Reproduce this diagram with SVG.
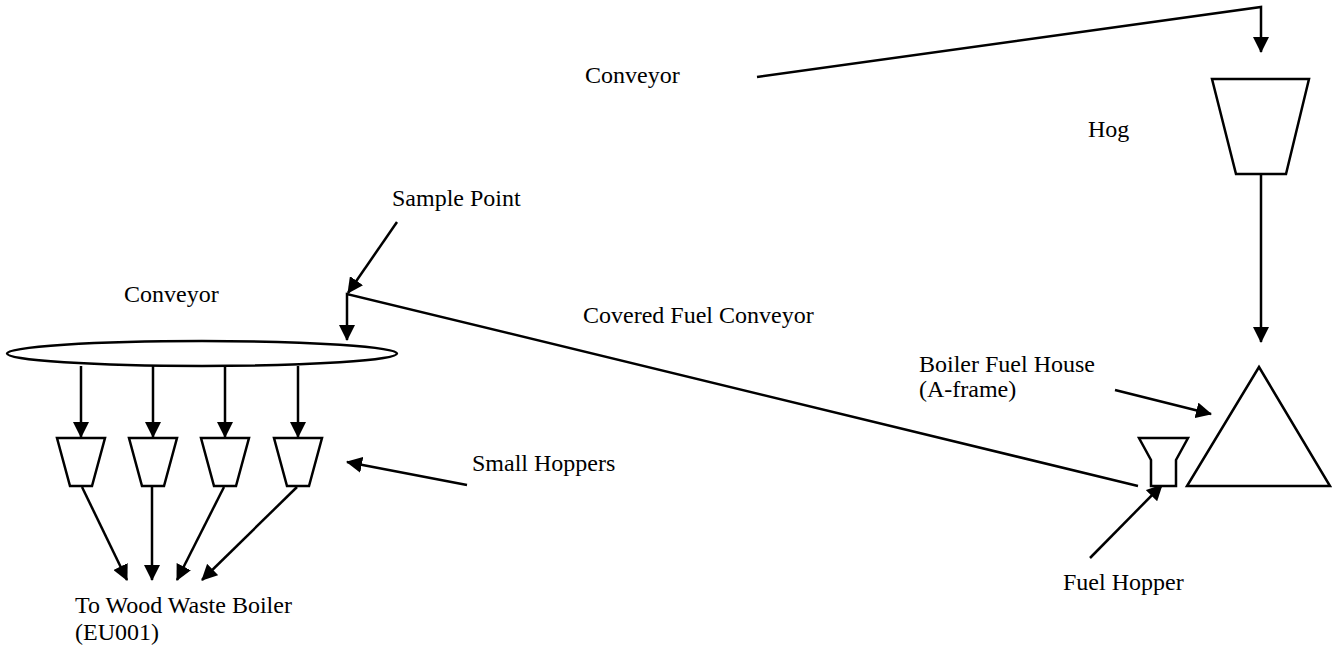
<svg xmlns="http://www.w3.org/2000/svg" width="1338" height="650" viewBox="0 0 1338 650">
<style>
.s{fill:none;stroke:#000;stroke-width:2.5;stroke-linejoin:miter}
.f{fill:#fff;stroke:#000;stroke-width:2.5}
.t{font-family:"Liberation Serif","Times New Roman",serif;font-size:24px;fill:#000}
</style>
<defs>
<marker id="ah" markerUnits="userSpaceOnUse" markerWidth="16" markerHeight="16" viewBox="0 0 16 16" refX="15" refY="8" orient="auto">
<path d="M0,0 L16,8 L0,16 Z" fill="#000"/>
</marker>
</defs>
<rect width="1338" height="650" fill="#fff"/>
<g id="connectors">
<polyline class="s" points="757,77 1261,7 1261,52" marker-end="url(#ah)"/>
<line class="s" x1="1261" y1="174" x2="1261" y2="342" marker-end="url(#ah)"/>
<polyline class="s" points="1138,486 347,294 347,340" marker-end="url(#ah)"/>
<line class="s" x1="397" y1="222" x2="348" y2="293" marker-end="url(#ah)"/>
<line class="s" x1="81" y1="366" x2="81" y2="437" marker-end="url(#ah)"/>
<line class="s" x1="153" y1="366" x2="153" y2="437" marker-end="url(#ah)"/>
<line class="s" x1="225" y1="366" x2="225" y2="437" marker-end="url(#ah)"/>
<line class="s" x1="298" y1="366" x2="298" y2="437" marker-end="url(#ah)"/>
<line class="s" x1="82" y1="487" x2="127" y2="580" marker-end="url(#ah)"/>
<line class="s" x1="152" y1="487" x2="152" y2="580" marker-end="url(#ah)"/>
<line class="s" x1="224" y1="487" x2="177" y2="580" marker-end="url(#ah)"/>
<line class="s" x1="297" y1="487" x2="202" y2="580" marker-end="url(#ah)"/>
<line class="s" x1="467" y1="485" x2="347" y2="462" marker-end="url(#ah)"/>
<line class="s" x1="1115" y1="390" x2="1211" y2="414" marker-end="url(#ah)"/>
<line class="s" x1="1090" y1="558" x2="1162" y2="485" marker-end="url(#ah)"/>
</g>
<g id="hog">
<polygon class="f" points="1212,79 1309,79 1286,174 1236,174"/>
<text class="t" x="1088" y="137">Hog</text>
</g>
<g id="conveyor-top">
<text class="t" x="585" y="83">Conveyor</text>
</g>
<g id="boiler-fuel-house">
<polygon class="f" points="1259,367 1330,486 1187,486"/>
<text class="t" x="919" y="372">Boiler Fuel House</text>
<text class="t" x="919" y="397">(A-frame)</text>
</g>
<g id="fuel-hopper">
<polygon class="f" points="1139,438 1188,438 1176,460 1176,486 1151,486 1151,460"/>
<text class="t" x="1063" y="590">Fuel Hopper</text>
</g>
<g id="sample-point">
<text class="t" x="392" y="206">Sample Point</text>
</g>
<g id="covered-fuel-conveyor">
<text class="t" x="583" y="323">Covered Fuel Conveyor</text>
</g>
<g id="conveyor-left">
<ellipse class="f" cx="202" cy="353.5" rx="195" ry="12.5"/>
<text class="t" x="124" y="302">Conveyor</text>
</g>
<g id="small-hoppers">
<polygon class="f" points="57,438 105,438 92,486 70,486"/>
<polygon class="f" points="129,438 177,438 164,486 142,486"/>
<polygon class="f" points="201,438 249,438 236,486 214,486"/>
<polygon class="f" points="274,438 322,438 309,486 287,486"/>
<text class="t" x="472" y="471">Small Hoppers</text>
</g>
<g id="boiler">
<text class="t" x="75" y="613">To Wood Waste Boiler</text>
<text class="t" x="75" y="640">(EU001)</text>
</g>
</svg>
